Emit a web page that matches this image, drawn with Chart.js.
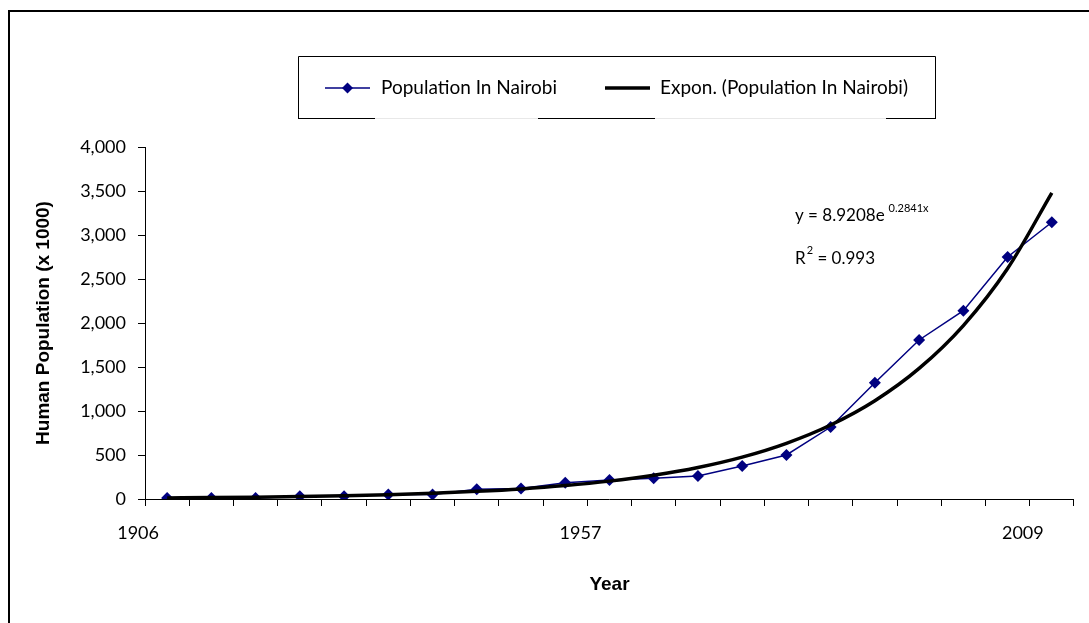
<!DOCTYPE html>
<html>
<head>
<meta charset="utf-8">
<script src="https://cdn.jsdelivr.net/npm/chart.js@4.4.1/dist/chart.umd.min.js"></script>
<style>
  html, body { margin: 0; padding: 0; background: #fff; }
  #wrap { position: relative; width: 1089px; height: 623px; }
  canvas { display: block; }
</style>
</head>
<body>
<div id="wrap"><canvas id="c" width="1089" height="623"></canvas></div>
<script>
// ---- data ----
const years = ['1906','1911','1916','1921','1926','1931','1936','1941','1946','1952','1957',
               '1962','1967','1972','1977','1983','1988','1993','1999','2004','2009'];
const shownYears = ['1906','1957','2009'];
const population = [11, 11, 12, 30, 30, 50, 50, 110, 118, 185, 216,
                    235, 261, 375, 500, 818, 1322, 1807, 2140, 2750, 3145];
const exponTrend = [12, 16, 21, 28, 37, 49, 65, 87, 115, 153, 203,
                    270, 358, 476, 633, 841, 1117, 1484, 1971, 2619, 3479];
const yTicks = { min: 0, max: 4000, step: 500 };
const seriesNames = ['Population In Nairobi', 'Expon. (Population In Nairobi)'];
const equationText = { main: 'y = 8.9208e', exp: '0.2841x', r: 'R', rExp: '2', rRest: ' = 0.993' };

const NAVY = '#000080';
const TICKFONT = 'Lato';
const BOLDFONT = '"Liberation Sans", Arial, sans-serif';

const decor = {
  id: 'decor',
  beforeDraw(chart) {
    const ctx = chart.ctx;
    ctx.save();
    ctx.fillStyle = '#fff';
    ctx.fillRect(0, 0, chart.width, chart.height);
    // outer frame (top and left visible)
    ctx.strokeStyle = '#000';
    ctx.lineWidth = 2;
    ctx.beginPath();
    ctx.moveTo(9, 623);
    ctx.lineTo(9, 11);
    ctx.lineTo(1089, 11);
    ctx.stroke();
    ctx.restore();
  },
  afterDraw(chart) {
    const ctx = chart.ctx;
    ctx.save();
    // legend box
    ctx.strokeStyle = '#000';
    ctx.lineWidth = 1;
    ctx.beginPath();
    ctx.moveTo(298.5, 118.5); ctx.lineTo(298.5, 56.5); ctx.lineTo(935.5, 56.5); ctx.lineTo(935.5, 118.5);
    ctx.moveTo(298, 118.5); ctx.lineTo(375, 118.5);
    ctx.moveTo(538, 118.5); ctx.lineTo(655, 118.5);
    ctx.moveTo(886, 118.5); ctx.lineTo(936, 118.5);
    ctx.stroke();
    ctx.strokeStyle = '#e8e8e8';
    ctx.beginPath();
    ctx.moveTo(375, 118.5); ctx.lineTo(538, 118.5);
    ctx.moveTo(655, 118.5); ctx.lineTo(886, 118.5);
    ctx.stroke();
    // legend entries
    const ly = 88;
    ctx.strokeStyle = NAVY; ctx.lineWidth = 1.5;
    ctx.beginPath(); ctx.moveTo(325, ly); ctx.lineTo(370, ly); ctx.stroke();
    ctx.fillStyle = NAVY;
    ctx.beginPath(); ctx.moveTo(347.5, ly - 5.5); ctx.lineTo(353, ly); ctx.lineTo(347.5, ly + 5.5); ctx.lineTo(342, ly); ctx.closePath(); ctx.fill();
    ctx.strokeStyle = '#000'; ctx.lineWidth = 3.5;
    ctx.beginPath(); ctx.moveTo(605, ly); ctx.lineTo(650, ly); ctx.stroke();
    ctx.fillStyle = '#000';
    ctx.font = '19px ' + TICKFONT;
    ctx.textBaseline = 'middle';
    ctx.textAlign = 'left';
    ctx.fillText(seriesNames[0], 381, ly);
    ctx.fillText(seriesNames[1], 660, ly);
    // trendline equation
    ctx.textBaseline = 'alphabetic';
    ctx.font = '17px ' + TICKFONT;
    ctx.fillText(equationText.main, 795, 221);
    const w1 = ctx.measureText(equationText.main).width;
    ctx.font = '11px ' + TICKFONT;
    ctx.fillText(equationText.exp, 795 + w1 + 4, 212);
    ctx.font = '17px ' + TICKFONT;
    ctx.fillText(equationText.r, 795, 264);
    const w2 = ctx.measureText(equationText.r).width;
    ctx.font = '11px ' + TICKFONT;
    ctx.fillText(equationText.rExp, 795 + w2 + 1, 254);
    const w3 = ctx.measureText(equationText.rExp).width;
    ctx.font = '17px ' + TICKFONT;
    ctx.fillText(equationText.rRest, 795 + w2 + w3 + 1, 264);
    ctx.restore();
  }
};

new Chart(document.getElementById('c'), {
  type: 'line',
  data: {
    labels: years,
    datasets: [
      {
        label: seriesNames[0],
        data: population,
        borderColor: NAVY,
        backgroundColor: NAVY,
        borderWidth: 1.5,
        pointStyle: 'rectRot',
        pointRadius: 6,
        pointHoverRadius: 6,
        pointBackgroundColor: NAVY,
        pointBorderColor: NAVY,
        pointBorderWidth: 0,
        tension: 0,
        order: 2
      },
      {
        label: seriesNames[1],
        data: exponTrend,
        borderColor: '#000',
        borderWidth: 3.5,
        pointRadius: 0,
        cubicInterpolationMode: 'monotone',
        order: 1
      }
    ]
  },
  options: {
    responsive: false,
    animation: false,
    events: [],
    layout: { padding: { left: 0, right: 12, top: 147, bottom: 0 } },
    plugins: { legend: { display: false }, tooltip: { enabled: false } },
    scales: {
      x: {
        type: 'category',
        offset: true,
        border: { display: true, color: '#000', width: 1 },
        grid: { display: true, offset: true, drawOnChartArea: false, drawTicks: true, tickLength: 7, color: '#000' },
        ticks: {
          autoSkip: false, maxRotation: 0, minRotation: 0,
          color: '#000', font: { family: TICKFONT, size: 18 },
          padding: 16, labelOffset: -29,
          callback: function (v, i) { const l = years[i]; return shownYears.includes(l) ? l : ''; }
        },
        title: {
          display: true, text: 'Year', color: '#000',
          font: { family: BOLDFONT, size: 19, weight: 'bold' },
          padding: { top: 0, bottom: 27 }
        },
        afterFit(scale) { scale.height = 124; }
      },
      y: {
        min: yTicks.min, max: yTicks.max,
        border: { display: true, color: '#000', width: 1 },
        grid: { display: true, drawOnChartArea: false, drawTicks: true, tickLength: 7, color: '#000' },
        ticks: {
          stepSize: yTicks.step, color: '#000', padding: 12,
          font: { family: TICKFONT, size: 18 }
        },
        title: {
          display: true, text: 'Human Population (x 1000)', color: '#000',
          font: { family: BOLDFONT, size: 19, weight: 'bold' },
          padding: { top: 32, bottom: 0 }
        },
        afterFit(scale) { scale.width = 145; }
      }
    }
  },
  plugins: [decor]
});
</script>
</body>
</html>
